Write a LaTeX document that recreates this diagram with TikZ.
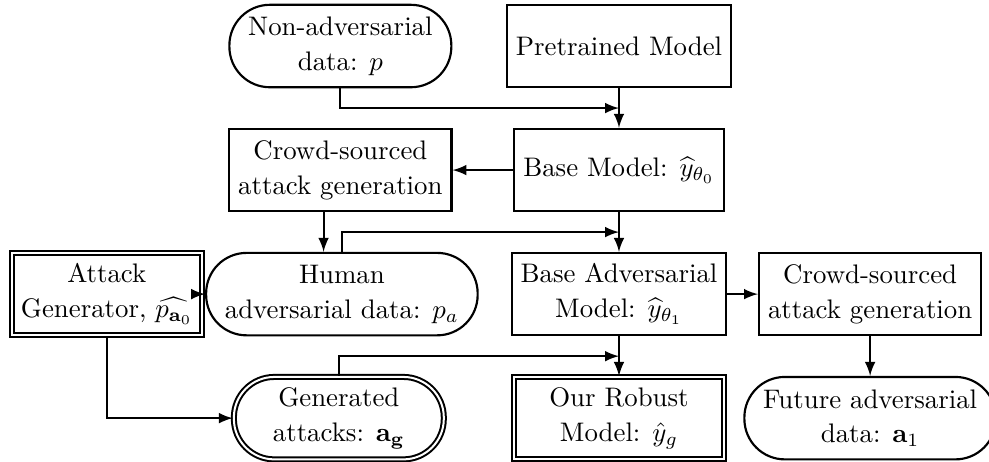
\documentclass[tikz,border=0pt]{standalone}
\usepackage{amssymb}
\usepackage{tikz}
\usetikzlibrary{arrows,calc,positioning}

\begin{document}
\begin{tikzpicture}[node distance=1.625cm, thick, >=latex,
    every node/.style={align=center, minimum height=1.08cm, font={\fontsize{10}{13}\selectfont}},
    box/.style={draw, rectangle},
    pill/.style={draw, rounded corners=0.53cm, inner xsep=7pt},
    dbox/.style={box, double, double distance=0.75pt, line width=0.75pt},
    dpill/.style={pill, double, double distance=0.75pt, line width=0.75pt}]
              \useasboundingbox (-8.109,0.603) rectangle (4.847,-5.437);
              \node[box] (pre) {Pretrained Model};
              \node[box, below of=pre] (base) {Base Model: $\widehat{y}_{\theta_0}$};
              \node[pill, node distance=3.65cm, left of=pre] (nonadv) {Non-adversarial\\data: $p$};
              \node[box, node distance=3.65cm, left of=base] (crowdA) {Crowd-sourced\\attack generation};
              \node[box, below of=base] (adv) {Base Adversarial\\Model: $\widehat{y}_{\theta_1}$};
              \node[pill, node distance=3.63cm, left of=adv] (human) {Human\\adversarial data: $p_a$};
              \node[dbox, node distance=3.08cm, left of=human] (gen) {Attack\\Generator, $\widehat{p_{\mathbf{a}_0}}$};
              \node[box, node distance=3.29cm, right of=adv] (crowdB) {Crowd-sourced\\attack generation};
              \node[dbox, below of=adv, minimum width=2.75cm] (robust) {Our Robust\\Model: $\hat{y}_g$};
              \node[dpill, node distance=3.67cm, left of=robust, minimum width=2.75cm] (attacks) {Generated\\attacks: $\mathbf{a_g}$};
              \node[pill, below of=crowdB] (future) {Future adversarial\\data: $\mathbf{a}_1$};

              \coordinate (m1) at ($(pre.south)!0.5!(base.north)$);
              \coordinate (m2) at ($(base.south)!0.5!(adv.north)$);
              \coordinate (m3) at ($(adv.south)!0.5!(robust.north)$);

            \draw[->] (pre) -- (base);
            \draw[->] (nonadv) |- (m1);
            \draw[->] (base) -- (crowdA);
            \draw[->] ([xshift=-0.22cm]crowdA.south) -- ([xshift=-0.22cm]crowdA.south |- human.north);
            \draw[->] (human) |- (m2);
            \draw[->] (base) -- (adv);
            \draw[->] ([xshift=-4pt]gen.east) -- (human.west);
            \draw[->] (gen) |- (attacks);
            \draw[->] (attacks) |- (m3);
            \draw[->] (adv) -- (robust);
            \draw[->] (adv) -- (crowdB);
            \draw[->] (crowdB) -- (future);
            \end{tikzpicture}
\end{document}
